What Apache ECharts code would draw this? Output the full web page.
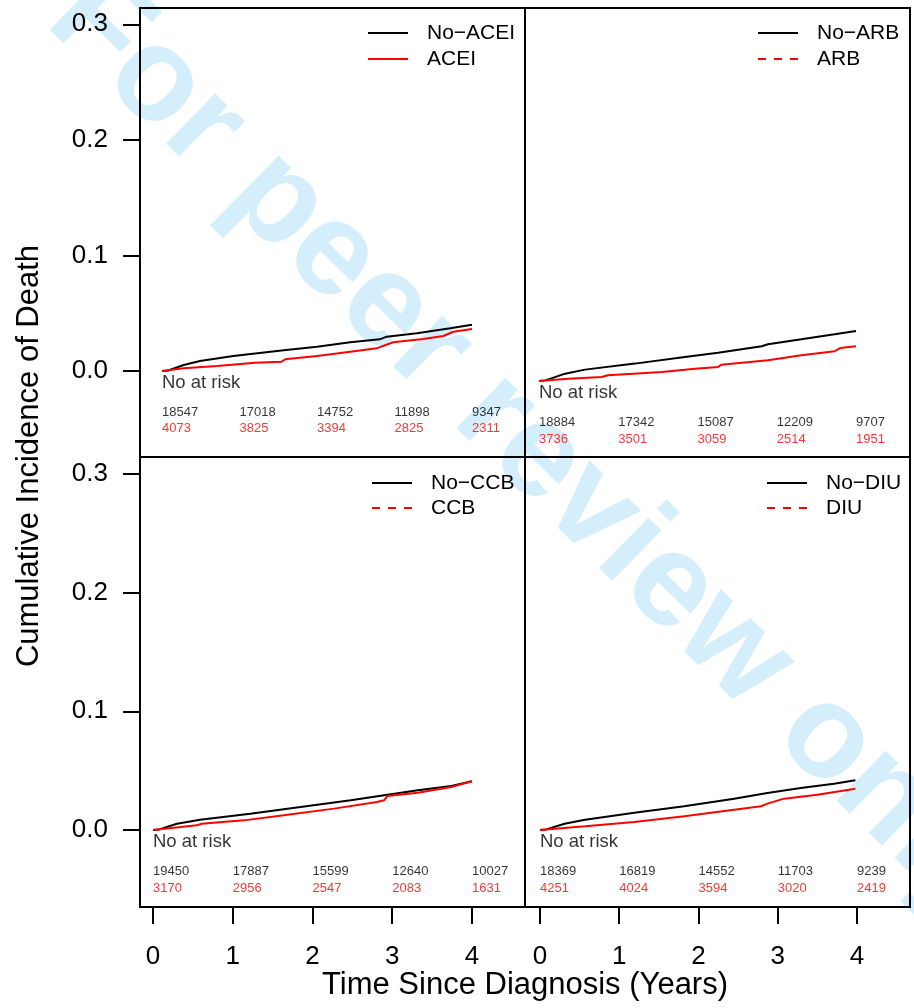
<!DOCTYPE html>
<html>
<head>
<meta charset="utf-8">
<title>Cumulative Incidence of Death</title>
<script src="https://cdn.jsdelivr.net/npm/echarts@6/dist/echarts.min.js"></script>
<style>
  html, body { margin: 0; padding: 0; background: #fff; }
  #chart { width: 914px; height: 1008px; }
</style>
</head>
<body>
<div id="chart"></div>
<script>
// ---- data ----
const years = [0, 1, 2, 3, 4];
const yTicks = [0, 0.1, 0.2, 0.3];

// cumulative incidence curves: [years, incidence]
const noAceiCurve = [[0,0],[0.08,0.0005],[0.28,0.0052],[0.49,0.0087],[0.92,0.013],[1.57,0.018],[2.0,0.021],[2.43,0.0248],[2.81,0.0274],[2.9,0.0297],[3.29,0.0326],[3.72,0.037],[4.0,0.0401]];
const aceiCurve   = [[0,0],[0.28,0.0023],[0.71,0.0043],[1.2,0.0072],[1.54,0.008],[1.59,0.0101],[2.0,0.013],[2.43,0.0167],[2.77,0.0196],[2.86,0.0219],[2.98,0.0248],[3.37,0.0277],[3.63,0.0303],[3.76,0.034],[4.0,0.0363]];
const noArbCurve  = [[0,0],[0.08,0.0005],[0.33,0.0063],[0.58,0.0098],[1.21,0.015],[1.84,0.0208],[2.26,0.0245],[2.81,0.030],[2.89,0.0317],[3.31,0.036],[3.73,0.0404],[4.0,0.0433]];
const arbCurve    = [[0,0],[0.37,0.002],[0.79,0.0035],[0.87,0.0049],[1.55,0.0078],[1.97,0.0106],[2.26,0.0121],[2.3,0.0141],[2.89,0.0179],[3.31,0.0222],[3.73,0.0257],[3.8,0.0285],[4.0,0.030]];
const noCcbCurve  = [[0,0],[0.08,0.0005],[0.3,0.0053],[0.59,0.0087],[1.22,0.0137],[1.85,0.0194],[2.48,0.025],[2.9,0.0292],[3.32,0.0334],[3.74,0.037],[4.0,0.041]];
const ccbCurve    = [[0,0],[0.55,0.0039],[0.61,0.0053],[1.14,0.0081],[1.64,0.0124],[2.27,0.018],[2.81,0.0236],[2.9,0.025],[2.94,0.0287],[3.32,0.0314],[3.74,0.0362],[4.0,0.041]];
const noDiuCurve  = [[0,0],[0.08,0.0005],[0.31,0.0053],[0.57,0.0087],[1.19,0.0146],[1.82,0.02],[2.45,0.0264],[2.87,0.0312],[3.29,0.0354],[3.71,0.039],[3.98,0.0419]];
const diuCurve    = [[0,0],[0.57,0.0031],[1.19,0.0067],[1.82,0.0115],[2.45,0.0171],[2.79,0.02],[2.87,0.0222],[3.08,0.0264],[3.5,0.0297],[3.98,0.0348]];

// numbers at risk at years 0..4
const riskNoAcei = [18547, 17018, 14752, 11898, 9347];
const riskAcei   = [4073, 3825, 3394, 2825, 2311];
const riskNoArb  = [18884, 17342, 15087, 12209, 9707];
const riskArb    = [3736, 3501, 3059, 2514, 1951];
const riskNoCcb  = [19450, 17887, 15599, 12640, 10027];
const riskCcb    = [3170, 2956, 2547, 2083, 1631];
const riskNoDiu  = [18369, 16819, 14552, 11703, 9239];
const riskDiu    = [4251, 4024, 3594, 3020, 2419];

// ---- layout ----
const FONT = '"Liberation Sans", Arial, Helvetica, sans-serif';
const BLACK = '#000000';
const RED = '#ff0000';

const panels = [
  { name: 'ACEI', noCurve: noAceiCurve, yesCurve: aceiCurve, noRisk: riskNoAcei, yesRisk: riskAcei,
    grid: { left: 140, top: 8, width: 385, height: 449 },
    x: [-0.284, 4.684], y: [-0.0744, 0.3141], leftAxis: true, bottomAxis: false,
    riskY: [-0.0104, -0.0355, -0.0493], dashed: false,
    legend: { lineX: 368, textX: 427, y1: 33, y2: 59 } },
  { name: 'ARB', noCurve: noArbCurve, yesCurve: arbCurve, noRisk: riskNoArb, yesRisk: riskArb,
    grid: { left: 525, top: 8, width: 385, height: 449 },
    x: [-0.1767, 4.681], y: [-0.0658, 0.3227], leftAxis: false, bottomAxis: false,
    riskY: [-0.0104, -0.0355, -0.051], dashed: true,
    legend: { lineX: 758, textX: 817, y1: 33, y2: 59 } },
  { name: 'CCB', noCurve: noCcbCurve, yesCurve: ccbCurve, noRisk: riskNoCcb, yesRisk: riskCcb,
    grid: { left: 140, top: 457, width: 385, height: 450 },
    x: [-0.163, 4.665], y: [-0.0649, 0.3143], leftAxis: true, bottomAxis: true,
    riskY: [-0.0101, -0.0345, -0.0489], dashed: true,
    legend: { lineX: 372, textX: 431, y1: 483, y2: 508 } },
  { name: 'DIU', noCurve: noDiuCurve, yesCurve: diuCurve, noRisk: riskNoDiu, yesRisk: riskDiu,
    grid: { left: 525, top: 457, width: 385, height: 450 },
    x: [-0.189, 4.669], y: [-0.0649, 0.3143], leftAxis: false, bottomAxis: true,
    riskY: [-0.0101, -0.0345, -0.0489], dashed: true,
    legend: { lineX: 767, textX: 826, y1: 483, y2: 508 } }
];

const grids = [], xAxes = [], yAxes = [], series = [], graphics = [];

// faint diagonal watermark behind everything
graphics.push({
  type: 'text', x: 531, y: 450, rotation: -Math.PI / 4 + 0.01, z: -10, silent: true,
  style: { text: 'For peer review only', font: 'bold 133px ' + FONT, fill: '#d5eefb',
           align: 'center', verticalAlign: 'middle' }
});

panels.forEach((p, i) => {
  grids.push(Object.assign({ show: true, borderColor: BLACK, borderWidth: 2, backgroundColor: 'transparent' }, p.grid));

  xAxes.push({
    type: 'value', gridIndex: i, min: p.x[0], max: p.x[1], position: 'bottom',
    splitLine: { show: false }, axisLine: { show: false, onZero: false },
    axisTick: { show: p.bottomAxis, customValues: years, length: 17, lineStyle: { color: BLACK, width: 2 } },
    axisLabel: { show: p.bottomAxis, customValues: years, margin: 37, fontSize: 26, color: BLACK, fontFamily: FONT,
                 formatter: v => String(Math.round(v)) }
  });
  yAxes.push({
    type: 'value', gridIndex: i, min: p.y[0], max: p.y[1], position: 'left',
    splitLine: { show: false }, axisLine: { show: false, onZero: false },
    axisTick: { show: p.leftAxis, customValues: yTicks, length: 17, lineStyle: { color: BLACK, width: 2 } },
    axisLabel: { show: p.leftAxis, customValues: yTicks, margin: 32, fontSize: 26, color: BLACK, fontFamily: FONT,
                 formatter: v => v.toFixed(1) }
  });

  const lineBase = { type: 'line', xAxisIndex: i, yAxisIndex: i, showSymbol: false, symbol: 'none',
                     silent: true, animation: false, z: 3 };
  series.push(Object.assign({ name: 'No\u2212' + p.name, data: p.noCurve,
                              lineStyle: { color: BLACK, width: 2 }, itemStyle: { color: BLACK } }, lineBase));
  series.push(Object.assign({ name: p.name, data: p.yesCurve,
                              lineStyle: { color: RED, width: 2 }, itemStyle: { color: RED } }, lineBase));

  const textBase = { type: 'scatter', xAxisIndex: i, yAxisIndex: i, symbolSize: 0, silent: true, animation: false, z: 4 };
  // "No at risk" heading
  series.push(Object.assign({
    data: [{ value: [0, p.riskY[0]], name: 'No at risk' }],
    label: { show: true, position: 'right', distance: 0, formatter: '{b}', fontSize: 18.5, color: BLACK,
             fontFamily: FONT, align: 'left', verticalAlign: 'middle' }
  }, textBase));
  // numbers at risk rows
  [[p.noRisk, p.riskY[1], BLACK], [p.yesRisk, p.riskY[2], RED]].forEach(([arr, yy, col]) => {
    series.push(Object.assign({
      data: arr.map((n, k) => ({ value: [years[k], yy], name: String(n) })),
      label: { show: true, position: 'right', distance: 0, formatter: '{b}', fontSize: 13, color: col,
               fontFamily: FONT, align: 'left', verticalAlign: 'middle' }
    }, textBase));
  });

  // legend box
  const L = p.legend;
  graphics.push({ type: 'line', shape: { x1: L.lineX, y1: L.y1, x2: L.lineX + 40, y2: L.y1 },
                  style: { stroke: BLACK, lineWidth: 2 }, silent: true });
  graphics.push({ type: 'line', shape: { x1: L.lineX, y1: L.y2, x2: L.lineX + 40, y2: L.y2 },
                  style: { stroke: RED, lineWidth: 2, lineDash: p.dashed ? [8, 8] : null }, silent: true });
  graphics.push({ type: 'text', x: L.textX, y: L.y1, silent: true,
                  style: { text: 'No\u2212' + p.name, font: '21px ' + FONT, fill: BLACK, verticalAlign: 'middle' } });
  graphics.push({ type: 'text', x: L.textX, y: L.y2, silent: true,
                  style: { text: p.name, font: '21px ' + FONT, fill: BLACK, verticalAlign: 'middle' } });
});

// shared axis titles
graphics.push({ type: 'text', x: 525, y: 985, silent: true,
  style: { text: 'Time Since Diagnosis (Years)', font: '31px ' + FONT, fill: BLACK, align: 'center', verticalAlign: 'middle' } });
graphics.push({ type: 'text', x: 29, y: 456, rotation: Math.PI / 2, silent: true,
  style: { text: 'Cumulative Incidence of Death', font: '31px ' + FONT, fill: BLACK, align: 'center', verticalAlign: 'middle' } });

const chart = echarts.init(document.getElementById('chart'), null, { renderer: 'canvas' });
chart.setOption({
  animation: false,
  backgroundColor: '#ffffff',
  grid: grids,
  xAxis: xAxes,
  yAxis: yAxes,
  series: series,
  graphic: { elements: graphics }
});
</script>
</body>
</html>
